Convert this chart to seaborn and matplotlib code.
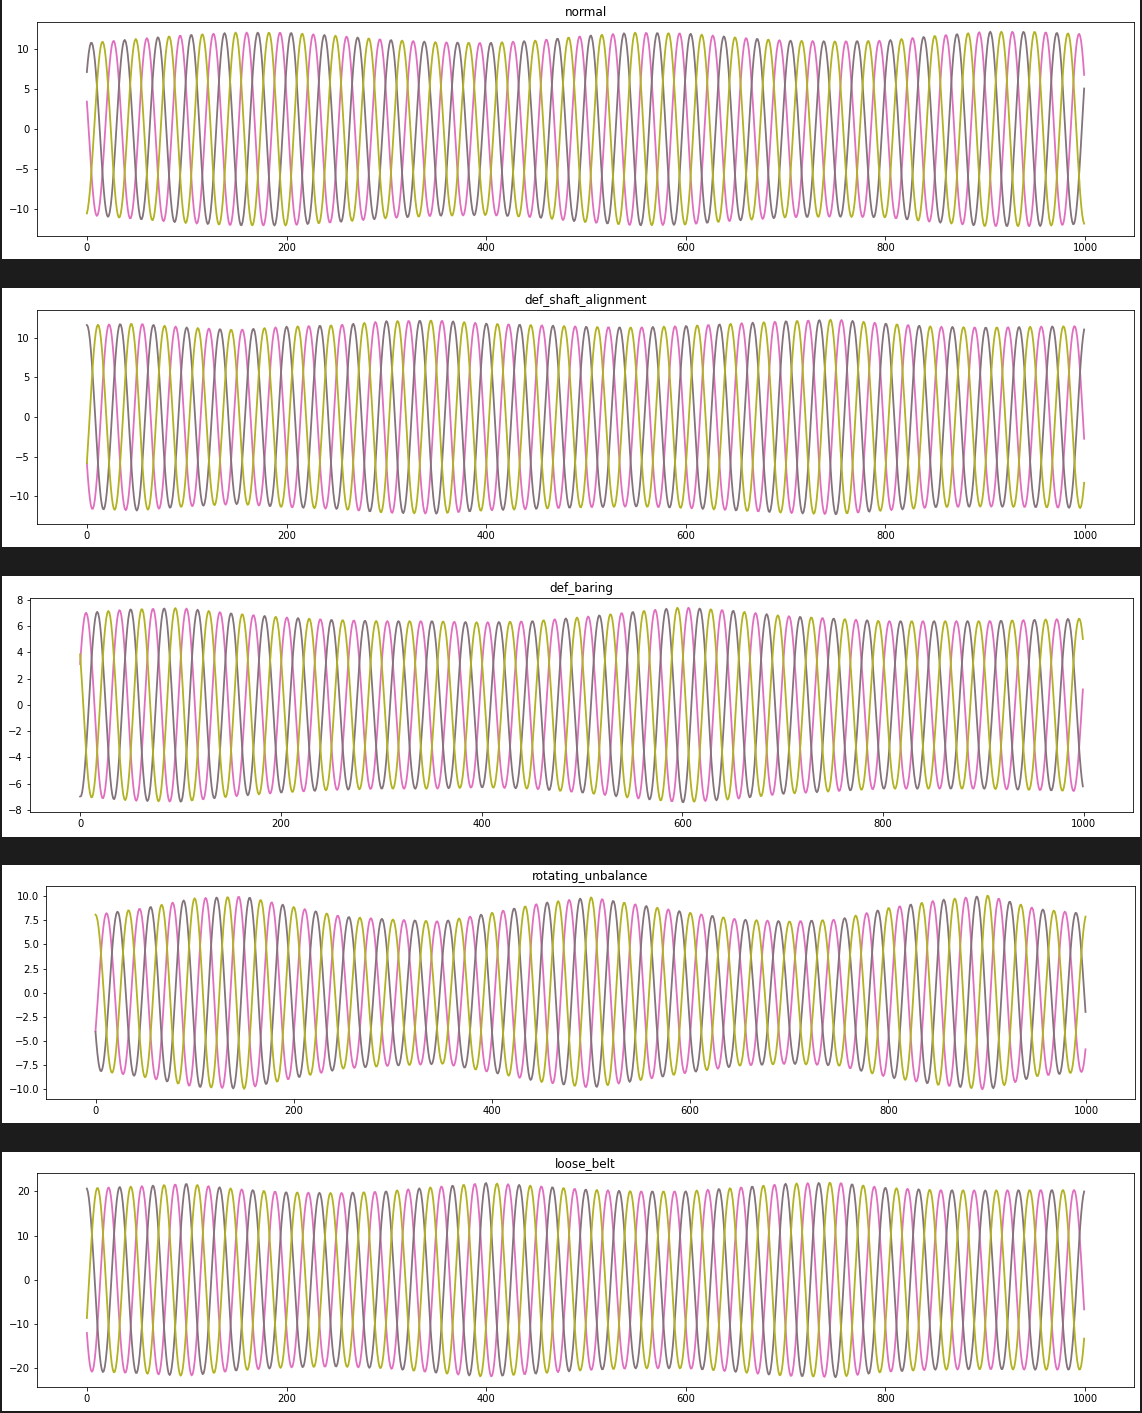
import numpy as np
import pandas as pd
import matplotlib
matplotlib.use("Agg")
import matplotlib.pyplot as plt
from matplotlib.patches import Rectangle
import seaborn as sns

# ---- data ------------------------------------------------------------------
n_samples = 1000
period = 33.35          # samples per revolution (from peak spacing)

titles = ["normal", "def_shaft_alignment", "def_baring",
          "rotating_unbalance", "loose_belt"]

# sample index where the first "gray" phase peaks; olive lags by 1/3, pink by 2/3
gray_peak = [4.5, 0.0, 17.0, 22.2, -0.5]

# amplitude envelope read every 50 samples (0, 50, ..., 1000)
env_x = [0, 50, 100, 150, 200, 250, 300, 350, 400, 450, 500,
         550, 600, 650, 700, 750, 800, 850, 900, 950, 1000]
env_normal = [10.8, 11.3, 11.8, 12.1, 12.1, 11.7, 11.2, 10.9, 10.8, 11.1, 11.7,
              12.1, 12.0, 11.5, 11.1, 11.0, 11.1, 11.7, 12.2, 12.2, 11.9]
env_shaft = [11.6, 11.8, 11.3, 11.0, 11.4, 11.6, 12.1, 12.2, 11.8, 11.6, 11.4,
             11.3, 11.5, 11.8, 12.1, 12.3, 11.8, 11.4, 11.3, 11.4, 11.5]
env_baring = [7.0, 7.3, 7.4, 7.0, 6.7, 6.5, 6.4, 6.4, 6.3, 6.4, 6.7,
              7.1, 7.45, 7.2, 6.8, 6.6, 6.4, 6.4, 6.4, 6.5, 6.6]
env_unbalance = [8.1, 8.8, 9.8, 10.0, 8.9, 7.9, 7.6, 7.4, 8.3, 9.3, 9.9,
                 9.1, 8.3, 7.6, 7.4, 7.6, 8.8, 9.6, 10.1, 8.7, 8.2]
env_belt = [20.7, 21.1, 21.7, 20.5, 19.8, 19.6, 20.0, 21.0, 21.9, 21.2, 20.4,
            20.0, 20.0, 20.8, 21.7, 22.0, 20.8, 20.3, 20.2, 20.3, 20.3]
envelopes = [env_normal, env_shaft, env_baring, env_unbalance, env_belt]

phases = ["pink", "gray", "olive"]
phase_lag = {"gray": 0.0, "olive": 1 / 3, "pink": 2 / 3}
palette = {"pink": "#e070bf", "gray": "#83737a", "olive": "#b2b222"}

# ---- layout (pixels of the 1142x1413 screenshot) ---------------------------
W, H = 1142, 1413
white_boxes = [(0, 259), (288, 547), (576, 837), (865, 1123), (1152, 1411)]
axes_boxes = [(37, 1134, 22, 236), (37, 1134, 310, 524), (30, 1133, 598, 812),
              (46, 1135, 886, 1099), (37, 1134, 1173, 1387)]

fig = plt.figure(figsize=(W / 72, H / 72), dpi=72, facecolor="#1c1c1c")

# white backgrounds of the five stacked notebook outputs
for y0, y1 in white_boxes:
    bg = Rectangle((2 / W, 1 - y1 / H), (W - 4) / W, (y1 - y0) / H,
                   transform=fig.transFigure, facecolor="white",
                   edgecolor="none", zorder=-10)
    fig.add_artist(bg)

t = np.arange(n_samples)
for i, title in enumerate(titles):
    l, r, top, bot = axes_boxes[i]
    ax = fig.add_axes([l / W, 1 - bot / H, (r - l) / W, (bot - top) / H])
    ax.set_zorder(5)

    amp = np.interp(t, env_x, envelopes[i])
    frames = []
    for ph in phases:
        peak = gray_peak[i] + phase_lag[ph] * period
        frames.append(pd.DataFrame({
            "sample": t,
            "value": amp * np.cos(2 * np.pi * (t - peak) / period),
            "phase": ph,
        }))
    df = pd.concat(frames, ignore_index=True)

    sns.lineplot(data=df, x="sample", y="value", hue="phase", hue_order=phases,
                 palette=palette, linewidth=1.8, estimator=None, legend=False, ax=ax)
    ax.set_title(title)
    ax.set_xlabel("")
    ax.set_ylabel("")

fig.savefig("out.png", dpi=72, facecolor=fig.get_facecolor())
